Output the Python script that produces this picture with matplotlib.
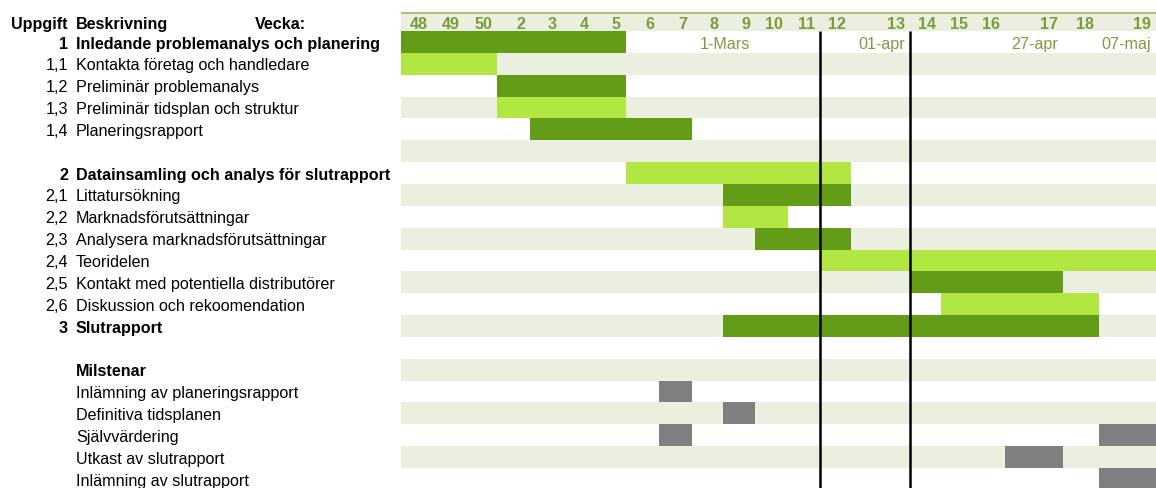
import numpy as np
import matplotlib.pyplot as plt
from matplotlib.transforms import blended_transform_factory

plt.rcParams['font.family'] = ['Liberation Sans', 'DejaVu Sans']

# week columns of the schedule
weeks = [48, 49, 50, 2, 3, 4, 5, 6, 7, 8, 9, 10, 11, 12, 13, 14, 15, 16, 17, 18, 19]

# tasks: id, description, first and last week
task_ids = ['1', '1,1', '1,2', '1,3', '1,4',
            '2', '2,1', '2,2', '2,3', '2,4', '2,5', '2,6', '3']
task_names = ['Inledande problemanalys och planering',
              'Kontakta företag och handledare',
              'Preliminär problemanalys',
              'Preliminär tidsplan och struktur',
              'Planeringsrapport',
              'Datainsamling och analys för slutrapport',
              'Littatursökning',
              'Marknadsförutsättningar',
              'Analysera marknadsförutsättningar',
              'Teoridelen',
              'Kontakt med potentiella distributörer',
              'Diskussion och rekoomendation',
              'Slutrapport']
task_start = [48, 48, 2, 2, 3, 6, 9, 9, 10, 12, 14, 15, 9]
task_end = [5, 50, 5, 5, 7, 12, 12, 10, 12, 19, 17, 18, 18]
task_main = ['1', '2', '3']

# milestones and the weeks they fall in
milestone_names = ['Inlämning av planeringsrapport',
                   'Definitiva tidsplanen',
                   'Självvärdering',
                   'Utkast av slutrapport',
                   'Inlämning av slutrapport']
milestone_weeks = [[7], [9], [7, 19], [17], [19]]

# dates written under some week columns
date_labels = ['1-Mars', '01-apr', '27-apr', '07-maj']
date_weeks = [9, 13, 17, 19]

# vertical marker lines (left edge of these weeks)
marker_weeks = [12, 14]

# ---- layout ----
W, H = 1156, 489
col_px = [32, 32, 32, 33, 32, 32, 32, 33, 33, 31, 32, 33, 32, 31, 59, 31, 32, 32, 58, 36, 57]
edges = np.concatenate([[0], np.cumsum(col_px)])
grid_left = 401
header_top = 13
rows_top = 32
row_px = 21.85

task_rows = [0, 1, 2, 3, 4, 6, 7, 8, 9, 10, 11, 12, 13]
milestone_title_row = 15
milestone_rows = [16, 17, 18, 19, 20]
n_rows = 21

dark = '#639c17'
light = '#b1e643'
band = '#ebefdf'
grey = '#808080'
olive = '#7d9b3e'
fs = 11.6
dy = 0.55  # text sits a little below the row centre

fig = plt.figure(figsize=(W / 100, H / 100), dpi=100)
ax = fig.add_axes([grid_left / W, 0, (W - grid_left) / W, (H - header_top) / H])
ax.set_xlim(0, edges[-1])
ax.set_ylim((H - rows_top) / row_px, -(rows_top - header_top) / row_px)
ax.axis('off')


def col(w):
    return weeks.index(w)


# header band and row banding
ax.axhspan(-(rows_top - header_top) / row_px, 0, color=band, lw=0, zorder=0)
ax.axhline(-(rows_top - header_top) / row_px, color='#a9c383', lw=2.2, zorder=1)
for r in range(1, n_rows + 1, 2):
    ax.axhspan(r, r + 1, color=band, lw=0, zorder=0)

# task bars
for i, (s, e) in enumerate(zip(task_start, task_end)):
    x0 = edges[col(s)]
    x1 = edges[col(e) + 1]
    ax.barh(task_rows[i] + 0.5, x1 - x0, left=x0, height=1.0,
            color=dark if i % 2 == 0 else light, lw=0, zorder=2)

# milestone blocks
for r, wk in zip(milestone_rows, milestone_weeks):
    for w in wk:
        x0 = edges[col(w)]
        x1 = edges[col(w) + 1]
        ax.barh(r + 0.5, x1 - x0, left=x0, height=1.0, color=grey, lw=0, zorder=2)

# marker lines
for w in marker_weeks:
    ax.plot([edges[col(w)]] * 2, [0, n_rows], color='black', lw=1.8, zorder=4,
            solid_capstyle='butt')

# week numbers and dates
hy = -(rows_top - header_top) / row_px / 2 + 0.08
for i, w in enumerate(weeks):
    ax.text(edges[i + 1] - 5, hy, str(w), ha='right', va='center',
            fontsize=fs, fontweight='bold', color=olive, zorder=5)
for lab, w in zip(date_labels, date_weeks):
    ax.text(edges[col(w) + 1] - 5, dy, lab, ha='right', va='center',
            fontsize=fs, color=olive, zorder=5)

# left hand table
tr = blended_transform_factory(fig.transFigure, ax.transData)
ax.text(11 / W, hy, 'Uppgift', transform=tr, ha='left', va='center',
        fontsize=fs, fontweight='bold')
ax.text(76 / W, hy, 'Beskrivning', transform=tr, ha='left', va='center',
        fontsize=fs, fontweight='bold')
ax.text(255 / W, hy, 'Vecka:', transform=tr, ha='left', va='center',
        fontsize=fs, fontweight='bold')

for r, tid, name in zip(task_rows, task_ids, task_names):
    wt = 'bold' if tid in task_main else 'normal'
    ax.text(68 / W, r + dy, tid, transform=tr, ha='right', va='center',
            fontsize=fs, fontweight=wt)
    ax.text(76 / W, r + dy, name, transform=tr, ha='left', va='center',
            fontsize=fs, fontweight=wt)

ax.text(76 / W, milestone_title_row + dy, 'Milstenar', transform=tr, ha='left',
        va='center', fontsize=fs, fontweight='bold')
for r, name in zip(milestone_rows, milestone_names):
    ax.text(76 / W, r + dy, name, transform=tr, ha='left', va='center', fontsize=fs)

fig.savefig('out.png', dpi=100)
